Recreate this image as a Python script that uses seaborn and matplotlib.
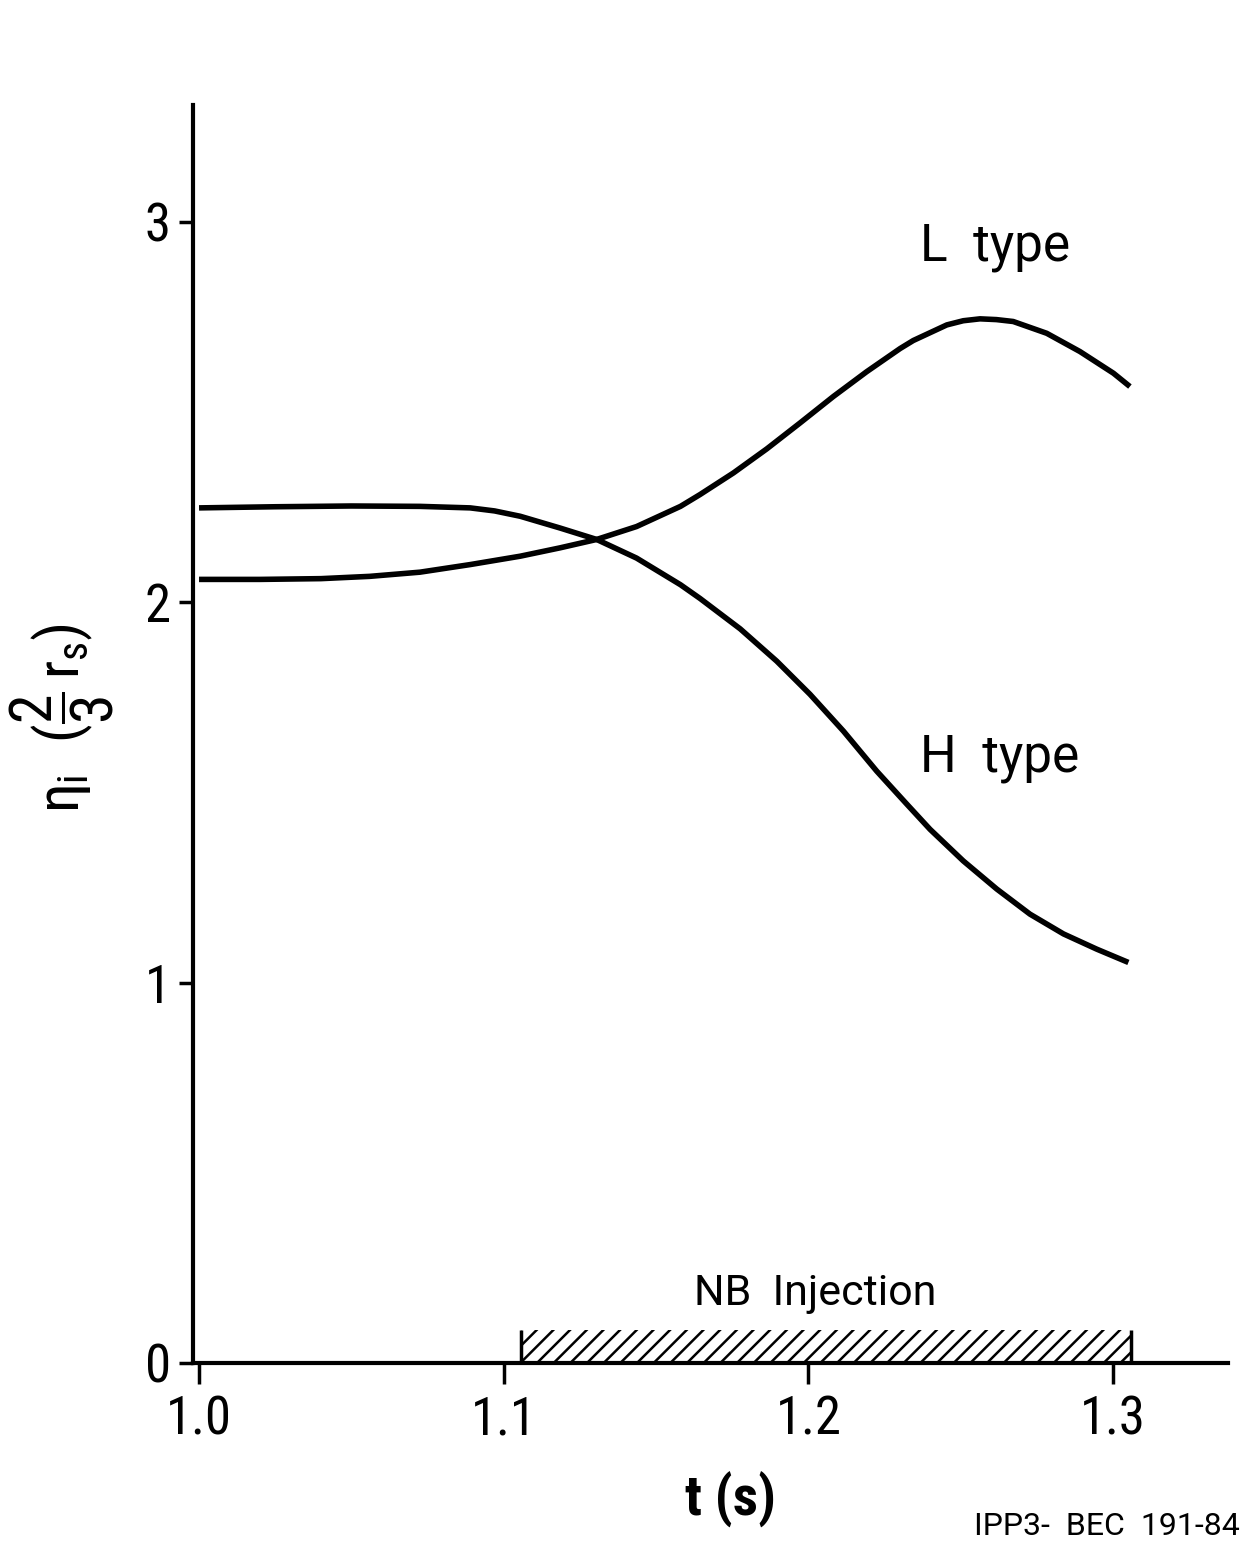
import pandas as pd
import seaborn as sns
import matplotlib.pyplot as plt
from matplotlib import font_manager

# curves (t in s, eta_i at 2/3 r_s)
t_L = [1.000, 1.020, 1.040, 1.056, 1.0725, 1.089, 1.1054, 1.1185, 1.1305, 1.1436,
       1.158, 1.1644, 1.1754, 1.1863, 1.1972, 1.2082, 1.2191, 1.2301, 1.2344,
       1.2454, 1.2508, 1.2563, 1.2617, 1.2672, 1.2782, 1.2891, 1.3001, 1.3055]
eta_L = [2.060, 2.060, 2.062, 2.068, 2.079, 2.099, 2.121, 2.143, 2.165, 2.199,
         2.252, 2.283, 2.340, 2.403, 2.471, 2.541, 2.606, 2.667, 2.688,
         2.729, 2.740, 2.745, 2.743, 2.738, 2.707, 2.659, 2.602, 2.567]

t_H = [1.000, 1.025, 1.050, 1.0725, 1.089, 1.097, 1.1054, 1.1185, 1.1305, 1.1436,
       1.158, 1.1644, 1.1776, 1.1896, 1.2005, 1.2115, 1.2224, 1.2323, 1.2399,
       1.2508, 1.2618, 1.2727, 1.2837, 1.2946, 1.3050]
eta_H = [2.248, 2.251, 2.253, 2.252, 2.248, 2.240, 2.226, 2.195, 2.165, 2.116,
         2.046, 2.010, 1.930, 1.845, 1.758, 1.661, 1.556, 1.469, 1.403,
         1.320, 1.246, 1.180, 1.128, 1.088, 1.053]

nbi_start, nbi_end, nbi_height = 1.1055, 1.306, 0.087

x_ticks = [1.0, 1.1, 1.2, 1.3]
x_ticklabels = ["1.0", "1.1", "1.2", "1.3"]
y_ticks = [0, 1, 2, 3]

df = pd.concat([
    pd.DataFrame({"t": t_L, "eta": eta_L, "mode": "L"}),
    pd.DataFrame({"t": t_H, "eta": eta_H, "mode": "H"}),
])

sns.set_style("ticks")

# narrow sans if there is one, otherwise plain DejaVu
names = {f.name for f in font_manager.fontManager.ttflist}
main_font = "DejaVu Sans"
for cand in ["Liberation Sans Narrow", "DejaVu Sans Condensed", "Roboto Condensed"]:
    if cand in names:
        main_font = cand
        break
label_font = "Roboto" if "Roboto" in names else "DejaVu Sans"
plt.rcParams['font.family'] = [main_font, 'DejaVu Sans']
plt.rcParams['font.stretch'] = 'condensed'
plt.rcParams['mathtext.fontset'] = 'custom'
plt.rcParams['mathtext.rm'] = main_font
plt.rcParams['mathtext.it'] = main_font
plt.rcParams['hatch.linewidth'] = 1.8
for k in ['text.color', 'axes.labelcolor', 'xtick.color', 'ytick.color', 'axes.edgecolor']:
    plt.rcParams[k] = 'black'

fig = plt.figure(figsize=(12.48, 15.45), dpi=100)
ax = fig.add_axes([0.1546, 0.1178, 0.984 - 0.1546, 0.932 - 0.1178])

sns.lineplot(data=df, x="t", y="eta", units="mode", estimator=None,
             color="black", lw=4.0, sort=False, ax=ax,
             solid_joinstyle="round", solid_capstyle="butt")

# NB injection bar
ax.fill_between([nbi_start, nbi_end], 0, nbi_height, facecolor="white",
                edgecolor="black", hatch="//", linewidth=0)
ax.vlines([nbi_start, nbi_end], 0, nbi_height, color="black", lw=2.5)

ax.set_xlim(0.998, 1.3377)
ax.set_ylim(0, 3.307)
ax.set_xticks(x_ticks)
ax.set_xticklabels(x_ticklabels)
ax.set_yticks(y_ticks)
ax.tick_params(axis="x", length=15, width=2.5, labelsize=38, pad=8)
ax.tick_params(axis="y", length=10, width=2.5, labelsize=38, pad=6)

sns.despine(ax=ax)
for s in ["left", "bottom"]:
    ax.spines[s].set_linewidth(3)

ax.set_xlabel("t (s)", fontsize=40, fontweight="bold")
ax.xaxis.set_label_coords(0.519, -0.109)
ax.xaxis.label.set_va("center")
ax.set_ylabel(r"$\eta_{\mathrm{i}}\ \ (\dfrac{2}{3}\,r_{\mathrm{s}})$", fontsize=43)
ax.yaxis.set_label_coords(-0.127, 0.513)
ax.yaxis.label.set_va("center")

lab = dict(family=label_font, fontstretch="normal", va="center")
ax.text(1.2366, 2.934, "L  type", fontsize=37, ha="left", **lab)
ax.text(1.2366, 1.591, "H  type", fontsize=37, ha="left", **lab)
ax.text(1.2021, 0.184, "NB  Injection", fontsize=31, ha="center", **lab)
fig.text(0.9936, 0.0117, "IPP3-  BEC  191-84", fontsize=23, ha="right", **lab)

fig.savefig("out.png", dpi=100, facecolor="white")
